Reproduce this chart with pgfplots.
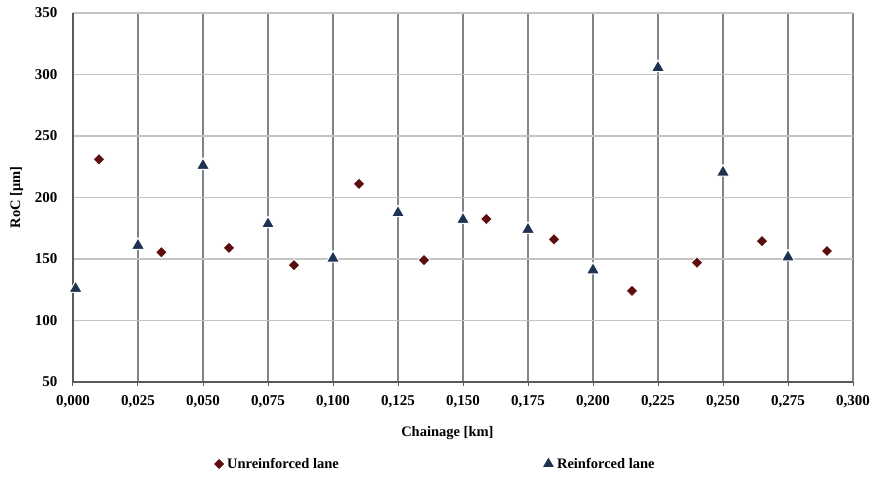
\documentclass[border=0pt]{standalone}
\usepackage{pgfplots}
\pgfplotsset{compat=1.18}
\usepackage{fontspec}
\setmainfont{Liberation Serif}
\definecolor{unrein}{RGB}{92,14,14}
\definecolor{rein}{RGB}{30,50,82}
\definecolor{vgrid}{RGB}{128,132,140}
\definecolor{hgrid}{RGB}{196,196,196}
\definecolor{axcol}{RGB}{90,90,90}
\begin{document}
\begin{tikzpicture}
\begin{axis}[
  scale only axis,
  width=780pt, height=369pt,
  xmin=0, xmax=0.3, ymin=50, ymax=350,
  xtick distance=0.025, ytick distance=50,
  axis x line*=bottom, axis y line*=left,
  axis line style={draw=axcol, line width=1.2pt, -},
  grid=major,
  x grid style={draw=vgrid, line width=1.5pt},
  y grid style={draw=hgrid, line width=1.6pt},
  tick align=outside,
  major tick length=4pt,
  xtick style={draw=axcol, line width=1pt},
  ytick style={draw=none},
  /pgf/number format/assume math mode=true,
  xticklabel style={/pgf/number format/.cd, fixed, fixed zerofill, precision=3, use comma, /tikz/.cd},
  scaled x ticks=false,
  tick label style={font=\bfseries\fontsize{15}{17}\selectfont},
  xticklabel style={yshift=-6pt},
  yticklabel style={xshift=-8pt},
  xlabel={Chainage [km]},
  ylabel={RoC [μm]},
  label style={font=\bfseries\fontsize{14.5}{16}\selectfont},
  xlabel style={at={(axis description cs:0.48,-0.138)}, anchor=center},
  ylabel style={at={(axis description cs:-0.0724,0.5)}, anchor=center},
  clip=false,
  legend columns=2,
  legend style={at={(rel axis cs:0.1756,-0.222)}, anchor=west, draw=none, fill=none,
    font=\bfseries\fontsize{14.5}{16}\selectfont,
    /tikz/every even column/.append style={column sep=201pt}},
  legend image code/.code={\draw[#1] plot coordinates {(0pt,0pt)};},
]
\addplot[only marks, mark=square*, mark size=4.2pt,
  mark options={rotate=45, fill=unrein, draw=white, line width=1pt}] coordinates {
  (0.010,231) (0.034,155.5) (0.060,159) (0.085,145) (0.110,211) (0.135,149)
  (0.159,182.5) (0.185,166) (0.215,124) (0.240,147) (0.265,164.5) (0.290,156.5)
};
\addlegendentry{Unreinforced lane}
\addplot[only marks, mark=triangle*, mark size=7.6pt,
  mark options={fill=rein, draw=white, line width=1pt}] coordinates {
  (0.001,126) (0.025,161) (0.050,226) (0.075,178.5) (0.100,150.5) (0.125,187.5)
  (0.150,182) (0.175,174) (0.200,141) (0.225,305.5) (0.250,220.5) (0.275,151.5)
};
\addlegendentry{Reinforced lane}
\path (rel axis cs:0,0) coordinate (SW) (rel axis cs:1,1) coordinate (NE);
\end{axis}
\pgfresetboundingbox
\path ([shift={(-73pt,-96pt)}]SW) rectangle ([shift={(22pt,13pt)}]NE);
\end{tikzpicture}
\end{document}
